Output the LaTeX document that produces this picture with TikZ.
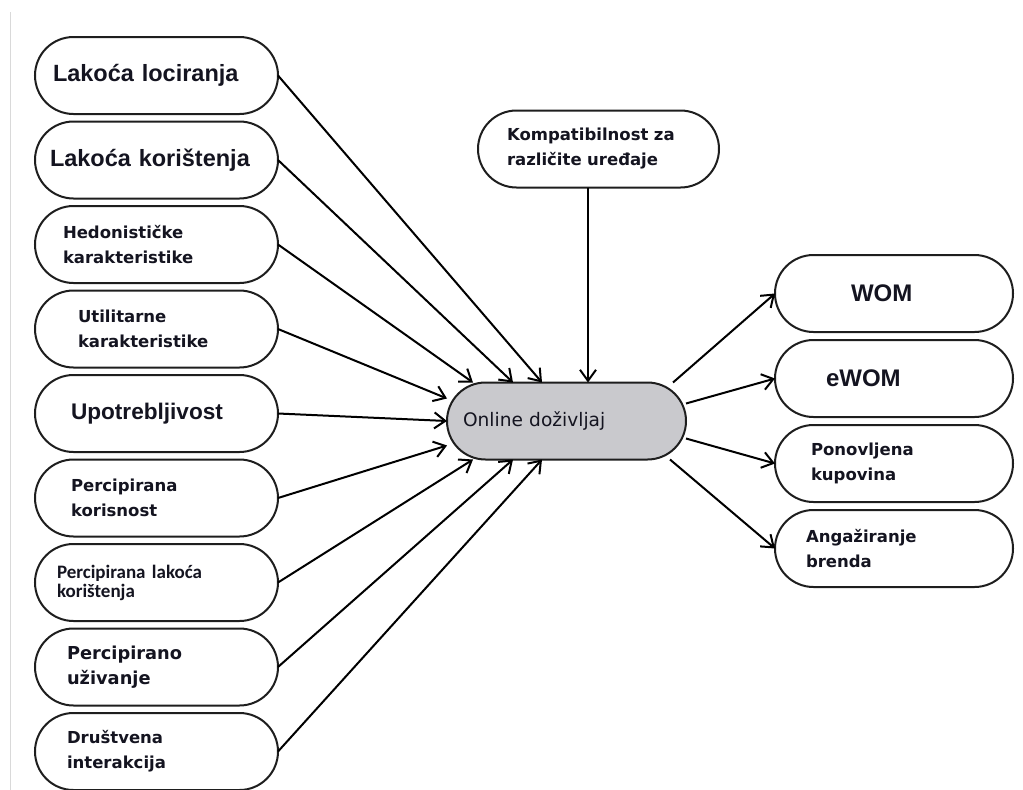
\documentclass[tikz,border=0pt]{standalone}
\usepackage{fontspec}
\setmainfont{DejaVu Sans}
\newfontfamily\arialfont{Liberation Sans}
\newfontfamily\calibrifont{Carlito}
\usetikzlibrary{arrows.meta,positioning}
\definecolor{boxline}{RGB}{30,30,30}
\definecolor{boxfill}{RGB}{201,201,205}
\definecolor{textdark}{RGB}{20,20,32}
\tikzset{
  x=1pt, y=1pt,
  >={Straight Barb[length=11pt,width=16pt]},
  every node/.style={outer sep=0mm,inner sep=0mm}
}
\tikzset{factor/.style={
    draw=boxline,
    line width=2pt,
    fill=white,
    rounded corners=38.5pt,
    minimum width=243pt,
    minimum height=77pt,
    text width=#1,
    align=left,
    text=textdark,
    font=\smallbold
  },
  factor/.default=207pt}
\tikzset{outcome/.style={factor=#1,minimum width=238pt},
  outcome/.default=166pt}
\newcommand{\bigbold}{\arialfont\bfseries\fontsize{23.5}{27}\selectfont}
\newcommand{\smallbold}{\bfseries\fontsize{16.5}{25}\selectfont}

\begin{document}
\begin{tikzpicture}[line width=2pt]
  \fill[white] (0,0) rectangle (1023,-790);
  \useasboundingbox (0,0) rectangle (1023,-790);
  \draw[line width=1pt,black!15] (10,-12) -- (10,-790);

  \node (Lakoca_lociranja) [factor=207pt,font=\bigbold] at (156.5,-75.5) {Lakoća lociranja};
  \node (Lakoca_koristenja) [factor=213pt,font=\bigbold,below=7.5pt of Lakoca_lociranja] {Lakoća korištenja};
  \node (Hedonisticke) [factor=187pt,below=7.5pt of Lakoca_koristenja] {Hedonističke\\karakteristike};
  \node (Utilitarne) [factor=157pt,below=7.5pt of Hedonisticke] {Utilitarne\\karakteristike};
  \node (Upotrebljivost) [factor=171pt,font={\arialfont\bfseries\fontsize{22.6}{26}\selectfont},below=7.5pt of Utilitarne] {Upotrebljivost};
  \node (Perc_korisnost) [factor=171pt,below=7.5pt of Upotrebljivost] {Percipirana\\korisnost};
  \node (Perc_lakoca) [factor=199pt,font={\calibrifont\bfseries\fontsize{19}{19}\selectfont},below=7.5pt of Perc_korisnost] {Percipirana lakoća\\korištenja};
  \node (Perc_uzivanje) [factor=179pt,font={\bfseries\fontsize{17.8}{25}\selectfont},below=7.5pt of Perc_lakoca] {Percipirano\\uživanje};
  \node (Drustvena_interakcija) [factor=179pt,below=7.5pt of Perc_uzivanje] {Društvena\\interakcija};

  \node (Kompatibilnost) [factor=183pt,minimum width=241pt] at (598.5,-149) {Kompatibilnost za\\različite uređaje};

  \node (Online_dozivljaj) [factor=207pt,minimum width=239pt,fill=boxfill,font={\fontsize{18.6}{22}\selectfont}] at (566.5,-421) {Online doživljaj};

  \node (WOM) [outcome=86pt,font={\arialfont\bfseries\fontsize{24}{28}\selectfont}] at (894,-293.5) {WOM};
  \node (eWOM) [outcome=136pt,font={\arialfont\bfseries\fontsize{24}{28}\selectfont},below=8pt of WOM] {eWOM};
  \node (Ponovljena_kupovina) [outcome=166pt,below=8pt of eWOM] {Ponovljena\\kupovina};
  \node (Angaziranje_brenda) [outcome=176pt,below=8pt of Ponovljena_kupovina] {Angažiranje\\brenda};

  \coordinate (Kompatibilnost_in) at ([xshift=21.5pt]Online_dozivljaj.north);

  \draw [->] (Lakoca_lociranja.east) -- ([xshift=95pt]Online_dozivljaj.north west);
  \draw [->] (Lakoca_koristenja.east) -- ([xshift=66pt]Online_dozivljaj.north west);
  \draw [->] (Hedonisticke.east) -- ([xshift=26pt]Online_dozivljaj.north west);
  \draw [->] (Utilitarne.east) -- ([yshift=-16pt]Online_dozivljaj.north west);
  \draw [->] (Upotrebljivost.east) -- (Online_dozivljaj.west);
  \draw [->] (Perc_korisnost.east) -- ([yshift=14pt]Online_dozivljaj.south west);
  \draw [->] (Perc_lakoca.east) -- ([xshift=26pt]Online_dozivljaj.south west);
  \draw [->] (Perc_uzivanje.east) -- ([xshift=66pt]Online_dozivljaj.south west);
  \draw [->] (Drustvena_interakcija.east) -- ([xshift=95pt]Online_dozivljaj.south west);

  \draw [->] (Kompatibilnost.south-|Kompatibilnost_in) -- (Kompatibilnost_in);

  \draw [->] ([xshift=-13pt]Online_dozivljaj.north east) -- (WOM.west);
  \draw [->] ([yshift=-21pt]Online_dozivljaj.north east) -- (eWOM.west);
  \draw [->] ([yshift=21pt]Online_dozivljaj.south east) -- (Ponovljena_kupovina.west);
  \draw [->] ([xshift=-16pt]Online_dozivljaj.south east) -- (Angaziranje_brenda.west);
\end{tikzpicture}
\end{document}
